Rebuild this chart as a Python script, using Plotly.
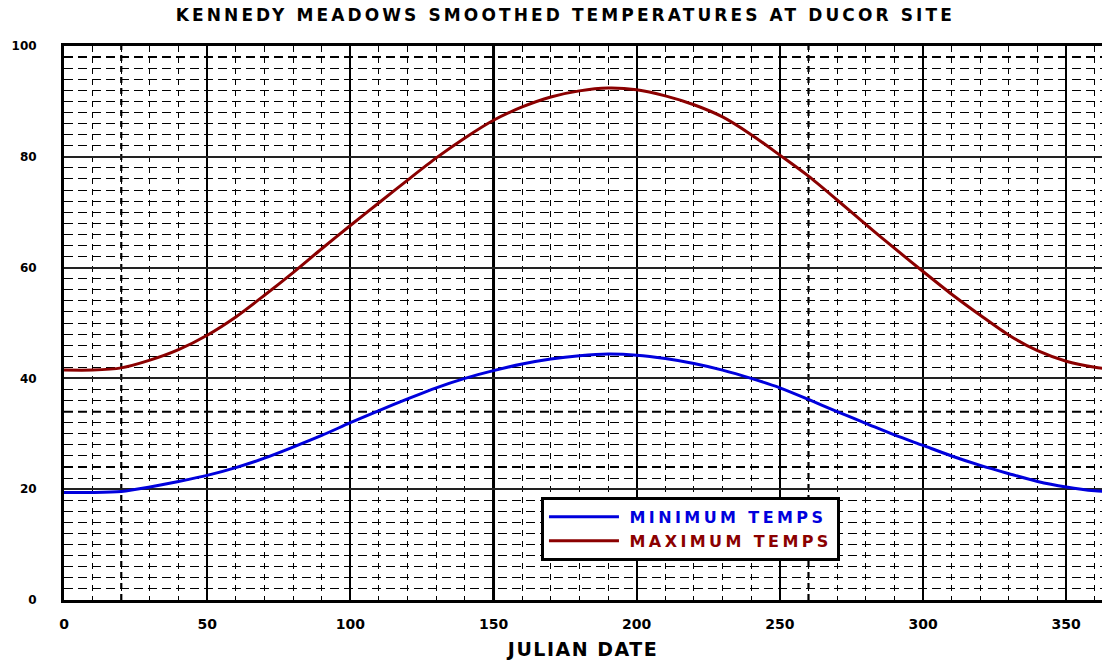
import plotly.graph_objects as go

# Julian day vs smoothed temperature (deg F)
DAYS = [0, 10, 20, 30, 40, 50, 60, 70, 80, 90, 100, 110, 120, 130, 140, 150, 160, 170, 180,
        190, 200, 210, 220, 230, 240, 250, 260, 270, 280, 290, 300, 310, 320, 330, 340, 350,
        360, 363]
MIN_TEMPS = [19.4, 19.4, 19.6, 20.4, 21.4, 22.5, 23.9, 25.6, 27.6, 29.7, 32.0, 34.2, 36.3, 38.3,
             40.0, 41.4, 42.6, 43.5, 44.1, 44.4, 44.2, 43.6, 42.7, 41.5, 40.0, 38.3, 36.2, 34.0,
             31.9, 29.8, 27.9, 26.0, 24.3, 22.8, 21.4, 20.4, 19.7, 19.6]
MAX_TEMPS = [41.5, 41.5, 41.9, 43.3, 45.2, 47.8, 51.1, 55.0, 59.1, 63.4, 67.6, 71.7, 75.8, 79.8,
             83.4, 86.6, 89.0, 90.8, 91.9, 92.4, 92.1, 91.0, 89.4, 87.2, 84.0, 80.3, 76.5, 72.2,
             67.8, 63.5, 59.3, 55.2, 51.4, 47.8, 45.0, 43.1, 42.0, 41.8]

X_TICKS = [0, 50, 100, 150, 200, 250, 300, 350]
Y_TICKS = [0, 20, 40, 60, 80, 100]
HEAVY_X = [20, 260]
HEAVY_Y = [24, 34, 98]

BLUE = "#0000dd"
RED = "#8b0000"
FONT = "DejaVu Sans"


def spaced(text: str, px: float, color: str | None = None) -> str:
    style = f"letter-spacing:{px}px"
    if color:
        style += f";color:{color}"
    return f"<span style='{style}'>{text}</span>"


def build_figure() -> go.Figure:
    fig = go.Figure()
    fig.add_trace(go.Scatter(x=DAYS, y=MIN_TEMPS, mode="lines",
                             name="&nbsp;" + spaced("MINIMUM TEMPS", 3.4, BLUE),
                             line=dict(color=BLUE, width=3, shape="spline", smoothing=0.8)))
    fig.add_trace(go.Scatter(x=DAYS, y=MAX_TEMPS, mode="lines",
                             name="&nbsp;" + spaced("MAXIMUM TEMPS", 3.4, RED),
                             line=dict(color=RED, width=3, shape="spline", smoothing=0.8)))

    for d in HEAVY_X:
        fig.add_shape(type="line", x0=d, x1=d, y0=0, y1=100, xref="x", yref="y", layer="below",
                      line=dict(color="black", width=2.2, dash="6px,5px"))
    for v in HEAVY_Y:
        fig.add_shape(type="line", x0=0, x1=363, y0=v, y1=v, xref="x", yref="y", layer="below",
                      line=dict(color="black", width=2, dash="9px,5px"))
    fig.add_shape(type="line", x0=150, x1=150, y0=0, y1=100, xref="x", yref="y", layer="below",
                  line=dict(color="black", width=3))

    fig.update_layout(
        width=1102,
        height=661,
        margin=dict(l=64, r=0, t=46, b=61),
        paper_bgcolor="white",
        plot_bgcolor="white",
        title=dict(text=spaced("KENNEDY MEADOWS SMOOTHED TEMPERATURES AT DUCOR SITE", 3.1),
                   x=0.513, xanchor="center", y=0.977, yanchor="middle",
                   font=dict(family=FONT, size=17, color="black", weight="bold")),
        legend=dict(x=0.4595, y=0.186, xanchor="left", yanchor="top",
                    bgcolor="white", bordercolor="black", borderwidth=3,
                    font=dict(family=FONT, size=16, weight="bold"), itemwidth=70,
                    tracegroupgap=0),
        font=dict(family=FONT, color="black"),
    )
    fig.update_xaxes(
        range=[0, 362.5], tickvals=X_TICKS, showline=True, linecolor="black", linewidth=3,
        mirror=True, ticks="", ticklabelstandoff=9,
        tickfont=dict(family=FONT, size=14, weight="bold"),
        showgrid=True, gridcolor="black", gridwidth=1.5, zeroline=False,
        minor=dict(dtick=10, tick0=0, showgrid=True, gridcolor="black", gridwidth=1,
                   griddash="6px,5px"),
        title=dict(text=spaced("JULIAN DATE", 1.5), standoff=12,
                   font=dict(family=FONT, size=19, weight="bold")),
    )
    fig.update_yaxes(
        range=[0, 100], tickvals=Y_TICKS, showline=True, linecolor="black", linewidth=3,
        ticks="", ticklabelstandoff=22,
        tickfont=dict(family=FONT, size=12, weight="bold"),
        showgrid=True, gridcolor="#222222", gridwidth=1.5, zeroline=False,
        minor=dict(dtick=2, tick0=0, showgrid=True, gridcolor="black", gridwidth=1,
                   griddash="9px,5px"),
    )
    return fig


fig = build_figure()
# drop the browser's default body margin so the 1102x661 figure fills the window
fig.write_html("out.html", config={"displayModeBar": False},
               post_script="document.body.style.margin = '0';")
